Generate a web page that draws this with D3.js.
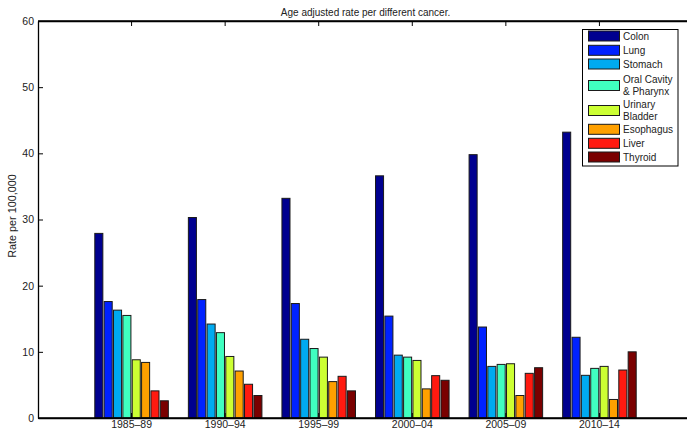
<!DOCTYPE html>
<html><head><meta charset="utf-8">
<script src="https://cdn.jsdelivr.net/npm/d3@7"></script>
<style>
html,body{margin:0;padding:0;background:#fff;}
svg{display:block;font-family:"Liberation Sans",Arial,Helvetica,sans-serif;}
</style></head>
<body>
<svg id="chart" width="687" height="433"></svg>
<script>
const periods = ["1985–89","1990–94","1995–99","2000–04","2005–09","2010–14"];
const cancers = ["Colon","Lung","Stomach","Oral Cavity\n& Pharynx","Urinary\nBladder","Esophagus","Liver","Thyroid"];
const colors = ["#00008f","#0022ff","#00aaf0","#40ffc0","#ccff33","#ffa000","#ff1a10","#7a0000"];
const colon     = [27.9, 30.3, 33.2, 36.6, 39.8, 43.2];
const lung      = [17.6, 17.9, 17.3, 15.4, 13.75, 12.2];
const stomach   = [16.3, 14.2, 11.9, 9.5, 7.8, 6.45];
const oral      = [15.5, 12.9, 10.5, 9.2, 8.1, 7.5];
const bladder   = [8.8, 9.3, 9.2, 8.7, 8.2, 7.8];
const esophagus = [8.4, 7.1, 5.5, 4.4, 3.4, 2.8];
const liver     = [4.1, 5.1, 6.3, 6.4, 6.75, 7.25];
const thyroid   = [2.6, 3.4, 4.1, 5.7, 7.6, 10.0];
const series = [colon, lung, stomach, oral, bladder, esophagus, liver, thyroid];
const yTicks = [0,10,20,30,40,50,60];

(function(){
const svg = d3.select("#chart");
const L = 38, R = 693, T = 21, B = 418;

const x = d3.scaleBand().domain(periods).range([L, R]).paddingInner(0.2).paddingOuter(0.6);
const xi = d3.scaleBand().domain(d3.range(cancers.length)).range([0, x.bandwidth()]).paddingInner(0.14).paddingOuter(0.07);
const y = d3.scaleLinear().domain([0, 60]).range([B, T]);

// bars
const g = svg.append("g");
periods.forEach((p, pi) => {
  series.forEach((s, si) => {
    g.append("rect")
      .attr("x", x(p) + xi(si))
      .attr("y", y(s[pi]))
      .attr("width", xi.bandwidth())
      .attr("height", y(0) - y(s[pi]))
      .attr("fill", colors[si])
      .attr("stroke", "#1a1a1a")
      .attr("stroke-width", 1);
  });
});

// axes
const fontSize = "10.5px";
const axLeft = svg.append("g").attr("transform", `translate(${L},0)`)
  .call(d3.axisLeft(y).tickValues(yTicks).tickSizeInner(-5).tickSizeOuter(0).tickPadding(4));
const axRight = svg.append("g").attr("transform", `translate(${R},0)`)
  .call(d3.axisRight(y).tickValues(yTicks).tickSizeInner(-5).tickSizeOuter(0).tickFormat(""));
const axBottom = svg.append("g").attr("transform", `translate(0,${B})`)
  .call(d3.axisBottom(x).tickSizeInner(-5).tickSizeOuter(0).tickPadding(3));
const axTop = svg.append("g").attr("transform", `translate(0,${T})`)
  .call(d3.axisTop(x).tickSizeInner(-5).tickSizeOuter(0).tickFormat(""));
[axLeft, axRight, axBottom, axTop].forEach(a => {
  a.selectAll(".domain").attr("stroke", "#000").attr("stroke-width", 1.3);
  a.selectAll(".tick line").attr("stroke", "#000");
  a.selectAll("text").attr("font-family", "Liberation Sans, Arial, sans-serif").attr("font-size", fontSize).attr("fill", "#222");
});
svg.append("line").attr("x1", L).attr("x2", R).attr("y1", T).attr("y2", T).attr("stroke", "#000").attr("stroke-width", 1.3);
svg.append("line").attr("x1", L).attr("x2", R).attr("y1", B).attr("y2", B).attr("stroke", "#000").attr("stroke-width", 1.3);

// title
svg.append("text").attr("x", (L + R) / 2).attr("y", 15.5).attr("text-anchor", "middle")
  .attr("font-size", "10px").attr("fill", "#222").text("Age adjusted rate per different cancer.");
// y label
svg.append("text").attr("transform", `translate(15.5,216) rotate(-90)`)
  .attr("text-anchor", "middle").attr("font-size", "10.8px").attr("fill", "#222").text("Rate per 100,000");

// legend
const lg = svg.append("g");
lg.append("rect").attr("x", 582.5).attr("y", 29.5).attr("width", 95.5).attr("height", 136.5)
  .attr("fill", "#fff").attr("stroke", "#000").attr("stroke-width", 1);
const rowCenters = [36, 50.3, 64, 85.5, 110.5, 129.3, 143.3, 157];
cancers.forEach((c, i) => {
  const cy = rowCenters[i];
  lg.append("rect").attr("x", 588.5).attr("y", cy - 5).attr("width", 31).attr("height", 10)
    .attr("fill", colors[i]).attr("stroke", "#1a1a1a").attr("stroke-width", 1);
  const lines = c.split("\n");
  const t = lg.append("text").attr("font-size", "10px").attr("fill", "#222");
  lines.forEach((ln, li) => {
    t.append("tspan").attr("x", 623).attr("y", cy + 3.6 + (li - (lines.length - 1) / 2) * 12.3).text(ln);
  });
});
})();
</script>
</body></html>
